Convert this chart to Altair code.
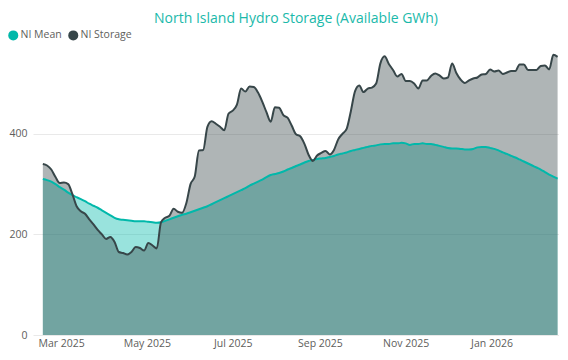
import altair as alt
import pandas as pd

# dates every 3 days starting 16 Feb 2025
dates = pd.date_range("2025-02-16", periods=123, freq="3D")

storage = [340, 337, 329, 314, 302, 303, 300, 280, 256, 246,
           241, 230, 220, 209, 200, 191, 195, 185, 165, 163,
           160, 165, 175, 173, 168, 183, 178, 172, 224, 233,
           237, 251, 245, 243, 262, 300, 315, 367, 368, 414,
           425, 420, 414, 407, 440, 446, 458, 490, 484, 494,
           493, 482, 464, 443, 424, 453, 452, 437, 432, 416,
           399, 395, 380, 358, 346, 357, 362, 366, 359, 368,
           389, 400, 410, 445, 485, 496, 483, 490, 492, 500,
           540, 554, 539, 527, 514, 519, 505, 505, 500, 490,
           506, 506, 515, 520, 516, 510, 512, 540, 521, 508,
           501, 506, 510, 512, 518, 519, 528, 524, 526, 519,
           522, 525, 525, 538, 538, 527, 527, 527, 535, 536,
           528, 557, 553]

mean = [310, 308, 305, 300, 294, 289, 283, 278, 274, 270,
        266, 261, 257, 253, 248, 243, 238, 233, 230, 229,
        228, 227, 226, 226, 226, 225, 224, 223, 224, 227,
        230, 233, 236, 239, 241, 244, 247, 250, 253, 256,
        260, 264, 268, 272, 276, 280, 284, 288, 292, 297,
        301, 305, 309, 314, 318, 320, 322, 325, 329, 332,
        336, 339, 343, 346, 348, 350, 351, 352, 354, 356,
        359, 361, 363, 366, 368, 370, 372, 374, 376, 377,
        379, 380, 380, 381, 381, 382, 381, 378, 380, 380,
        381, 380, 380, 378, 376, 374, 372, 371, 371, 370,
        369, 369, 370, 373, 374, 374, 372, 370, 367, 363,
        360, 356, 353, 349, 345, 341, 337, 333, 329, 324,
        319, 315, 311]

series_names = ["NI Mean", "NI Storage"]
series_colors = ["#01B8AA", "#374649"]
y_ticks = [0, 200, 400]

df = pd.DataFrame({"date": dates, "NI Mean": mean, "NI Storage": storage})

FONT = "Open Sans"
GREY = "#605E5C"
FS = 10.5

x_enc = alt.X(
    "date:T",
    title=None,
    scale=alt.Scale(domain=[alt.DateTime(year=2025, month=2, date=9),
                            alt.DateTime(year=2026, month=2, date=18)]),
    axis=alt.Axis(
        format="%b %Y",
        values=[alt.DateTime(year=2025, month=3, date=1),
                alt.DateTime(year=2025, month=5, date=1),
                alt.DateTime(year=2025, month=7, date=1),
                alt.DateTime(year=2025, month=9, date=1),
                alt.DateTime(year=2025, month=11, date=1),
                alt.DateTime(year=2026, month=1, date=1)],
        grid=False, ticks=False, domain=False, labelPadding=3,
        labelFont=FONT, labelFontSize=FS, labelColor=GREY,
    ),
)
y_scale = alt.Scale(domain=[0, 574.6], nice=False, zero=True)
y_axis = alt.Axis(
    values=y_ticks, grid=True, gridColor="#E9E9E9", gridWidth=1,
    ticks=False, domain=False, labelPadding=6,
    labelFont=FONT, labelFontSize=FS, labelColor=GREY,
)


def y_of(field):
    return alt.Y(f"{field}:Q", title=None, scale=y_scale, axis=y_axis)


base = alt.Chart(df).encode(x=x_enc)

mean_area = base.mark_area(interpolate="monotone", color=series_colors[0],
                           fillOpacity=0.4).encode(y=y_of("NI Mean"))
stor_area = base.mark_area(interpolate="monotone", color=series_colors[1],
                           fillOpacity=0.4).encode(y=y_of("NI Storage"))
mean_line = base.mark_line(interpolate="monotone", color=series_colors[0],
                           strokeWidth=2).encode(y=y_of("NI Mean"))
stor_line = base.mark_line(interpolate="monotone", color=series_colors[1],
                           strokeWidth=2).encode(y=y_of("NI Storage"))

# legend-only layer: zero-size points, legend built from the colour scale
legend_pts = base.transform_fold(
    series_names, as_=["series", "v"]
).mark_point(filled=True, size=0, opacity=1, shape="circle").encode(
    y=alt.Y("v:Q", title=None, scale=y_scale, axis=y_axis),
    color=alt.Color(
        "series:N", scale=alt.Scale(domain=series_names, range=series_colors),
        legend=alt.Legend(
            orient="none", direction="horizontal",
            legendX=-25, legendY=-16,
            symbolType="circle", symbolSize=100, symbolOpacity=1,
            symbolStrokeWidth=0,
            labelFont=FONT, labelFontSize=FS, labelColor=GREY,
            labelOffset=2, columnPadding=6,
        ),
    ),
)

chart = alt.layer(mean_area, stor_area, mean_line, stor_line, legend_pts).properties(
    width=526,
    height=289,
    autosize=alt.AutoSizeParams(type="none"),
    padding={"left": 25, "top": 38, "right": 0, "bottom": 17},
    title=alt.Title(
        "North Island Hydro Storage (Available GWh)",
        font=FONT, fontSize=14, fontWeight="normal", color="#1AB9AA",
        anchor="middle", offset=4,
    ),
).configure_view(stroke=None).configure_legend(title=None)

chart.save("out.html", embed_options={"renderer": "svg", "actions": False})
